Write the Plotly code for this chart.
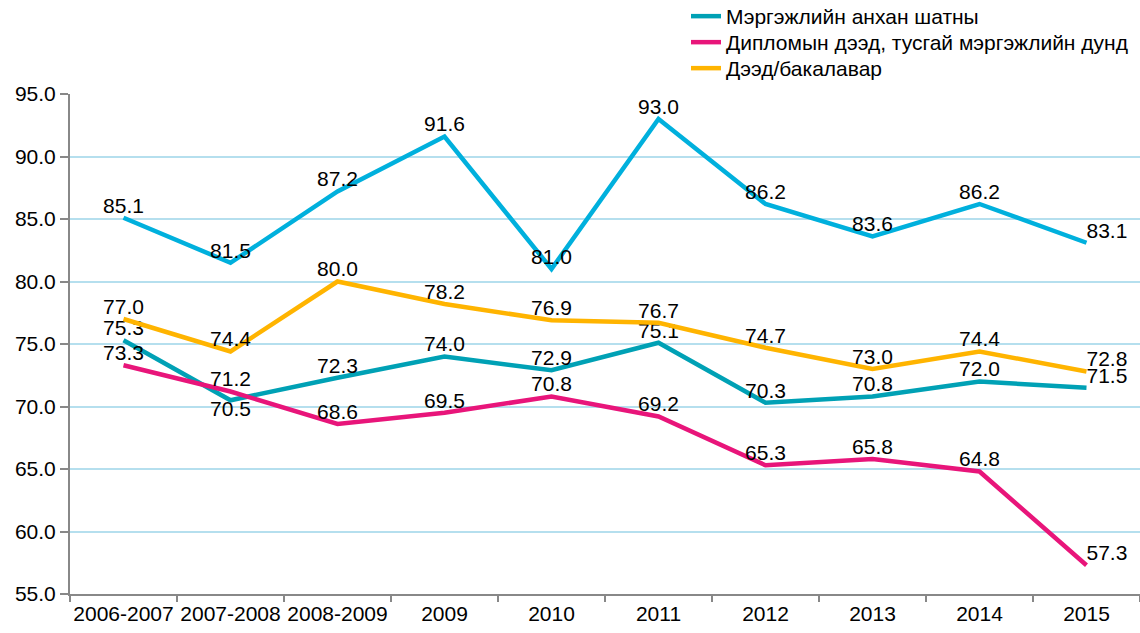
import plotly.graph_objects as go

categories = ["2006-2007", "2007-2008", "2008-2009", "2009", "2010", "2011", "2012", "2013", "2014", "2015"]

series_top = [85.1, 81.5, 87.2, 91.6, 81.0, 93.0, 86.2, 83.6, 86.2, 83.1]
series_teal = [75.3, 70.5, 72.3, 74.0, 72.9, 75.1, 70.3, 70.8, 72.0, 71.5]
series_magenta = [73.3, 71.2, 68.6, 69.5, 70.8, 69.2, 65.3, 65.8, 64.8, 57.3]
series_yellow = [77.0, 74.4, 80.0, 78.2, 76.9, 76.7, 74.7, 73.0, 74.4, 72.8]

name_teal = "Мэргэжлийн анхан шатны"
name_magenta = "Дипломын дээд, тусгай мэргэжлийн дунд"
name_yellow = "Дээд/бакалавар"

y_ticks = [55, 60, 65, 70, 75, 80, 85, 90, 95]

FONT = "Liberation Sans, Arial, sans-serif"
FS = 21


def positions(n, special=None):
    pos = ["top center"] * n
    pos[-1] = "top right"
    if special:
        for i, p in special.items():
            pos[i] = p
    return pos


fig = go.Figure()

fig.add_trace(go.Scatter(
    x=categories, y=series_top, mode="lines+text", showlegend=False,
    line=dict(color="#00B0DD", width=4.5),
    text=[f"{v:.1f}" for v in series_top], textposition=positions(10),
    textfont=dict(size=FS, color="#000000", family=FONT), cliponaxis=False,
))
fig.add_trace(go.Scatter(
    x=categories, y=series_teal, mode="lines+text", name=name_teal, legend="legend",
    line=dict(color="#00A1B5", width=4.5),
    text=[f"{v:.1f}" for v in series_teal], textposition=positions(10, {1: "bottom center"}),
    textfont=dict(size=FS, color="#000000", family=FONT), cliponaxis=False,
))
fig.add_trace(go.Scatter(
    x=categories, y=series_magenta, mode="lines+text", name=name_magenta, legend="legend2",
    line=dict(color="#E8157A", width=4.5),
    text=[f"{v:.1f}" for v in series_magenta], textposition=positions(10),
    textfont=dict(size=FS, color="#000000", family=FONT), cliponaxis=False,
))
fig.add_trace(go.Scatter(
    x=categories, y=series_yellow, mode="lines+text", name=name_yellow, legend="legend3",
    line=dict(color="#FFB400", width=4.5),
    text=[f"{v:.1f}" for v in series_yellow], textposition=positions(10),
    textfont=dict(size=FS, color="#000000", family=FONT), cliponaxis=False,
))

legend_style = dict(
    x=0.5757, xanchor="left", yanchor="top",
    font=dict(size=FS, family=FONT, color="#000000"),
    itemwidth=30, bgcolor="rgba(0,0,0,0)",
)

fig.update_layout(
    width=1140, height=633, autosize=False,
    margin=dict(l=70, r=0, t=94, b=39, autoexpand=False),
    paper_bgcolor="white", plot_bgcolor="white",
    font=dict(family=FONT, size=FS, color="#000000"),
    legend=dict(y=1.196, **legend_style),
    legend2=dict(y=1.144, **legend_style),
    legend3=dict(y=1.092, **legend_style),
    xaxis=dict(
        type="category", range=[-0.5, 9.5], tickson="boundaries",
        ticks="outside", ticklen=6, tickcolor="#888888", tickwidth=2,
        showline=True, linecolor="#888888", linewidth=2, tickangle=0,
        showgrid=False, tickfont=dict(size=FS), fixedrange=True,
    ),
    yaxis=dict(
        range=[55, 95], tickvals=y_ticks, ticktext=[f"{v:.1f}" for v in y_ticks],
        ticks="outside", ticklen=8, tickcolor="#888888", tickwidth=2,
        showline=True, linecolor="#888888", linewidth=2,
        showgrid=True, gridcolor="#B5DFEE", gridwidth=1.5, zeroline=False,
        tickfont=dict(size=FS),
    ),
)

fig.write_html("out.html", config={"displayModeBar": False},
               post_script="document.body.style.margin='0';")
